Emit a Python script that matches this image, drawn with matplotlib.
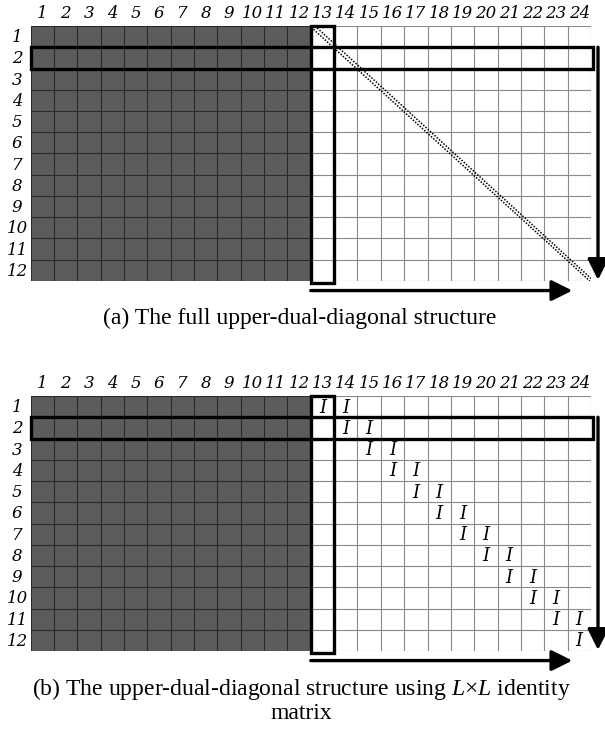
import matplotlib
matplotlib.use('Agg')
import matplotlib.pyplot as plt
import numpy as np
from matplotlib.colors import ListedColormap
from matplotlib.patches import Rectangle

plt.rcParams['font.family'] = ['Liberation Serif', 'DejaVu Serif']
plt.rcParams['mathtext.fontset'] = 'custom'
plt.rcParams['mathtext.it'] = 'Liberation Serif:italic'
plt.rcParams['mathtext.rm'] = 'Liberation Serif'

# data
col_labels = [str(i) for i in range(1, 25)]
row_labels = [str(i) for i in range(1, 13)]
n_gray_cols = 12          # first 12 columns are filled
hl_row = 2                # highlighted row
hl_col = 13               # highlighted column
# positions of the L x L identity blocks in (b)
ident_rows = [1, 1, 2, 2, 3, 3, 4, 4, 5, 5, 6, 6, 7, 7, 8, 8, 9, 9, 10, 10, 11, 11, 12]
ident_cols = [13, 14, 14, 15, 15, 16, 16, 17, 17, 18, 18, 19, 19, 20, 20, 21, 21, 22, 22, 23, 23, 24, 24]
captions = ['(a) The full upper-dual-diagonal structure',
            '(b) The upper-dual-diagonal structure using $L$×$L$ identity\nmatrix']

nc, nr = len(col_labels), len(row_labels)
gray = '#5c5c5c'
lab_font = 'DejaVu Serif'

fig = plt.figure(figsize=(6.05, 7.31), dpi=100)
W, H = 605, 731


def draw_panel(top_px, with_ident):
    left, right, bot = 30.5, 591, top_px + 255
    ax = fig.add_axes([left / W, 1 - bot / H, (right - left) / W, 255 / H])
    ax.set_xlim(0, nc)
    ax.set_ylim(nr, 0)
    ax.axis('off')

    mat = np.zeros((nr, nc))
    mat[:, :n_gray_cols] = 1
    ax.pcolormesh(np.arange(nc + 1), np.arange(nr + 1), mat,
                  cmap=ListedColormap(['white', gray]), vmin=0, vmax=1)

    # grid lines
    for x in range(nc + 1):
        if x <= n_gray_cols:
            ax.plot([x, x], [0, nr], color='#2a2a2a', lw=0.8)
        else:
            ax.plot([x, x], [0, nr], color='#8a8a8a', lw=0.8)
    for y in range(nr + 1):
        ax.plot([0, n_gray_cols], [y, y], color='#2a2a2a', lw=0.8)
        ax.plot([n_gray_cols, nc], [y, y], color='#8a8a8a', lw=0.8)

    # labels
    for i, lab in enumerate(col_labels):
        ax.text(i + 0.5, -0.58, lab, ha='center', va='center', fontsize=12,
                style='italic', family=lab_font)
    for j, lab in enumerate(row_labels):
        ax.text(-0.57, j + 0.55, lab, ha='center', va='center', fontsize=12,
                style='italic', family=lab_font, clip_on=False)

    # highlight boxes
    ax.add_patch(Rectangle((0, hl_row - 1), nc + 0.1, 1, fill=False,
                           ec='black', lw=2.4, clip_on=False, zorder=5))
    ax.add_patch(Rectangle((hl_col - 1, 0), 1, nr + 0.09, fill=False,
                           ec='black', lw=2.4, clip_on=False, zorder=5))

    # arrows
    ax.annotate('', xy=(23.2, 12.45), xytext=(12.0, 12.45),
                arrowprops=dict(arrowstyle='-|>,head_length=0.9,head_width=0.45',
                                lw=2.4, color='black', mutation_scale=14,
                                shrinkA=0, shrinkB=0),
                annotation_clip=False)
    ax.annotate('', xy=(24.3, 11.95), xytext=(24.3, 1.0),
                arrowprops=dict(arrowstyle='-|>,head_length=0.9,head_width=0.45',
                                lw=2.4, color='black', mutation_scale=14,
                                shrinkA=0, shrinkB=0),
                annotation_clip=False)

    if with_ident:
        for r, c in zip(ident_rows, ident_cols):
            ax.text(c - 0.5, r - 0.45, 'I', ha='center', va='center',
                    fontsize=13, style='italic', family=lab_font, zorder=6)
    else:
        ax.plot([12.02, 23.95], [0.06, 12.0], color='black', lw=1.1,
                ls=(0, (1, 1)), zorder=6)
        ax.plot([12.18, 24.0], [0.0, 11.88], color='black', lw=1.1,
                ls=(0, (1, 1)), zorder=6)
    return ax


draw_panel(26, False)
draw_panel(396, True)

fig.text(300 / W, 1 - 318 / H, captions[0], ha='center', va='center', fontsize=17)
fig.text(301 / W, 1 - 700 / H, captions[1], ha='center', va='center', fontsize=17,
         linespacing=1.08)

fig.savefig('out.png', dpi=100)
